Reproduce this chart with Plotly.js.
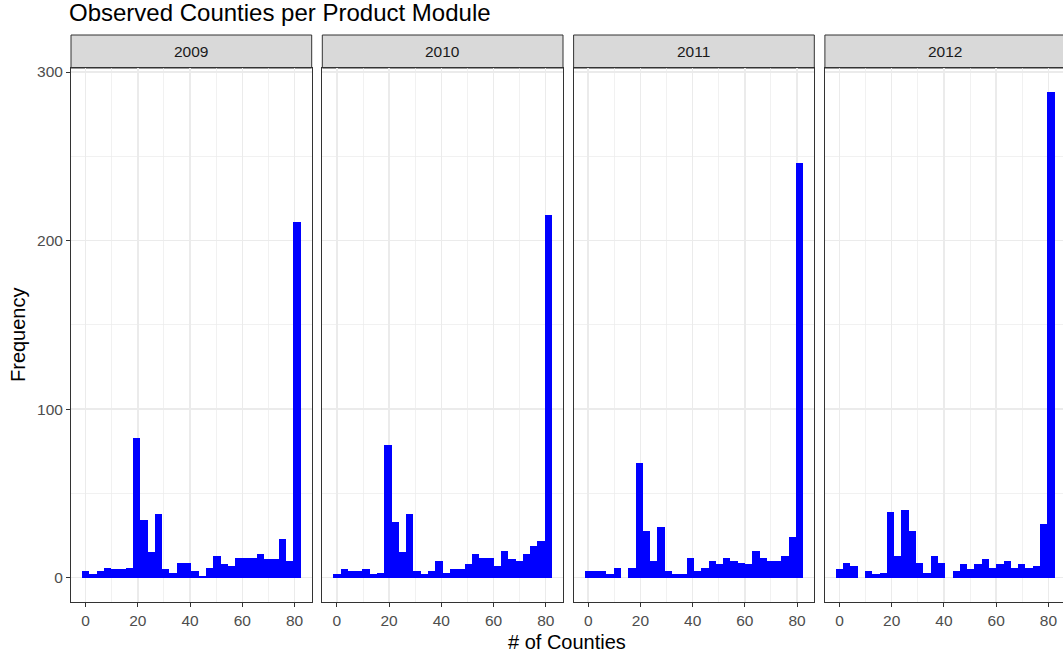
<!DOCTYPE html>
<html>
<head>
<meta charset="utf-8">
<script src="https://cdn.plot.ly/plotly-3.0.1.min.js"></script>
<style>
html,body{margin:0;padding:0;overflow:hidden;background:#fff;}
#chart{width:1066px;height:657px;}
</style>
</head>
<body>
<div id="chart"></div>
<script>
// ---- data ----
const years = ["2009", "2010", "2011", "2012"];
const binWidth = 81 / 29;            // ggplot default: 30 bins over 0..81
const binCenters = Array.from({length: 30}, (_, i) => i * binWidth);
const counts2009 = [4,2,4,6,5,5,6,83,34,15,38,5,3,9,9,4,1,6,13,8,7,12,12,12,14,11,11,23,10,211];
const counts2010 = [2,5,4,4,5,2,3,79,33,15,38,4,2,4,10,3,5,5,8,14,12,12,7,16,11,10,14,19,22,215];
const counts2011 = [4,4,4,2,6,0,6,68,28,10,30,4,2,2,12,4,6,10,8,12,10,9,8,16,12,10,10,13,24,246];
const counts2012 = [5,9,7,0,4,2,3,39,13,40,28,9,3,13,9,0,4,8,5,8,11,6,8,10,6,8,6,7,32,288];
const seriesCounts = [counts2009, counts2010, counts2011, counts2012];
const xTicks = [0, 20, 40, 60, 80];
const yTicks = [0, 100, 200, 300];
const chartTitle = "Observed Counties per Product Module";
const xTitle = "# of Counties";
const yTitle = "Frequency";

// ---- geometry (pixels) ----
const W = 1066, H = 657;
const panelLefts = [71, 322.3, 573.6, 824.9];
const panelW = 240.7;
const plotTop = 68, plotBottom = 602, stripTop = 35;
const FONT = "Liberation Sans, Arial, Helvetica, sans-serif";

const xRange = [-1.397 - 0.05 * 83.79, 82.397 + 0.05 * 83.79];
const yRange = [-14.4, 302.4];

const traces = [];
const layout = {
  width: W, height: H,
  margin: {l: 0, r: 0, t: 0, b: 0},
  paper_bgcolor: "#ffffff",
  plot_bgcolor: "#ffffff",
  showlegend: false,
  bargap: 0,
  font: {family: FONT, color: "#4D4D4D"},
  title: {
    text: chartTitle,
    font: {family: FONT, size: 24, color: "#000000"},
    x: 69 / W, xref: "paper", xanchor: "left",
    y: 1 - 13 / H, yref: "container", yanchor: "middle"
  },
  shapes: [],
  annotations: []
};

years.forEach((yr, i) => {
  const n = i === 0 ? "" : String(i + 1);
  traces.push({
    type: "bar",
    x: binCenters,
    y: seriesCounts[i],
    width: binWidth,
    xaxis: "x" + n,
    yaxis: "y" + n,
    marker: {color: "#0000FF", line: {width: 0}},
    hoverinfo: "skip"
  });
  const x0 = panelLefts[i] / W, x1 = (panelLefts[i] + panelW) / W;
  layout["xaxis" + n] = {
    domain: [x0, x1],
    anchor: "y" + n,
    range: xRange,
    tickmode: "array", tickvals: xTicks, ticktext: xTicks.map(String),
    ticks: "outside", ticklen: 4, tickwidth: 1, tickcolor: "#333333",
    tickfont: {family: FONT, size: 15.5, color: "#4D4D4D"},
    showgrid: true, gridcolor: "#EBEBEB", gridwidth: 1.4,
    minor: {dtick: 10, tick0: 10, showgrid: true, gridcolor: "#EBEBEB", gridwidth: 0.7, ticks: ""},
    zeroline: false,
    showline: true, mirror: true, linecolor: "#333333", linewidth: 1,
    fixedrange: true
  };
  layout["yaxis" + n] = {
    domain: [(H - plotBottom) / H, (H - plotTop) / H],
    anchor: "x" + n,
    range: yRange,
    tickmode: "array", tickvals: yTicks, ticktext: yTicks.map(String),
    showticklabels: i === 0,
    ticks: i === 0 ? "outside" : "", ticklen: 4, tickwidth: 1, tickcolor: "#333333",
    tickfont: {family: FONT, size: 15.5, color: "#4D4D4D"},
    showgrid: true, gridcolor: "#EBEBEB", gridwidth: 1.4,
    minor: {dtick: 50, tick0: 50, showgrid: true, gridcolor: "#EBEBEB", gridwidth: 0.7, ticks: ""},
    zeroline: false,
    showline: true, mirror: true, linecolor: "#333333", linewidth: 1,
    fixedrange: true
  };
  // facet strip
  layout.shapes.push({
    type: "rect", xref: "paper", yref: "paper",
    x0: x0, x1: x1, y0: (H - plotTop) / H, y1: (H - stripTop) / H,
    fillcolor: "#D9D9D9", line: {color: "#333333", width: 1}, layer: "below"
  });
  layout.annotations.push({
    text: yr, xref: "paper", yref: "paper",
    x: (x0 + x1) / 2, y: (H - (plotTop + stripTop) / 2) / H,
    xanchor: "center", yanchor: "middle", showarrow: false,
    font: {family: FONT, size: 15.5, color: "#1A1A1A"}
  });
});

// axis titles
layout.annotations.push({
  text: xTitle, xref: "paper", yref: "paper",
  x: 567 / W, y: (H - 642) / H, xanchor: "center", yanchor: "middle",
  showarrow: false, font: {family: FONT, size: 20, color: "#000000"}
});
layout.annotations.push({
  text: yTitle, xref: "paper", yref: "paper",
  x: 18 / W, y: (H - (plotTop + plotBottom) / 2) / H, xanchor: "center", yanchor: "middle",
  textangle: -90,
  showarrow: false, font: {family: FONT, size: 20, color: "#000000"}
});

Plotly.newPlot("chart", traces, layout, {staticPlot: true, displayModeBar: false});
</script>
</body>
</html>
